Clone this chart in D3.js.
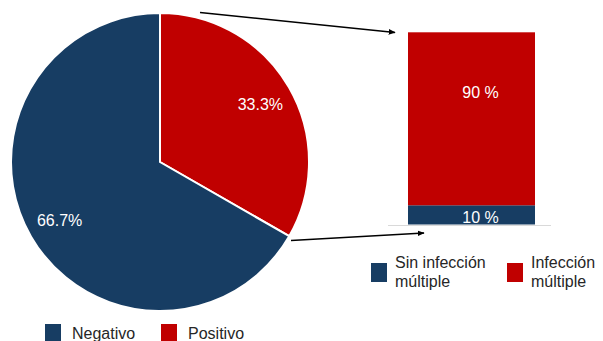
<!DOCTYPE html>
<html><head><meta charset="utf-8">
<script src="https://cdn.jsdelivr.net/npm/d3@7"></script>
<style>html,body{margin:0;padding:0;background:#fff;}svg{display:block;font-family:Arial,"Liberation Sans",sans-serif;}</style>
</head><body>
<script>
// Pie data
const pieCategories = ["Negativo", "Positivo"];
const pieValues = [66.7, 33.3];
const pieLabels = ["66.7%", "33.3%"];
// Breakdown bar data (of positives)
const barCategories = ["Sin infección múltiple", "Infección múltiple"];
const barValues = [10, 90];
const barLabels = ["10 %", "90 %"];
const colors = ["#173d63", "#c00000"];

const W = 603, H = 341;
const svg = d3.select("body").append("svg").attr("width", W).attr("height", H);

const defs = svg.append("defs");
defs.append("marker").attr("id", "arr").attr("viewBox", "0 0 10 10")
  .attr("refX", 9).attr("refY", 5).attr("markerWidth", 5).attr("markerHeight", 5)
  .attr("orient", "auto").append("path").attr("d", "M0,1 L10,5 L0,9 Z").attr("fill", "#000");

// ---- Pie ----
const cx = 160, cy = 162, R = 149;
const pie = d3.pie().sort(null).value(d => d)
  .startAngle(0).endAngle(2 * Math.PI);
// Positivo first clockwise from top, then Negativo
const order = [1, 0];
const arcs = pie(order.map(i => pieValues[i]));
const arc = d3.arc().innerRadius(0).outerRadius(R);
const labelArc = d3.arc().innerRadius(116).outerRadius(116);
const gPie = svg.append("g").attr("transform", `translate(${cx},${cy})`);
gPie.selectAll("path").data(arcs).join("path")
  .attr("d", arc)
  .attr("fill", (d, k) => colors[order[k]])
  .attr("stroke", "#fff").attr("stroke-width", 2);
gPie.selectAll("text").data(arcs).join("text")
  .attr("transform", d => `translate(${labelArc.centroid(d)})`)
  .attr("text-anchor", "middle").attr("dy", "0.35em")
  .attr("fill", "#fff").attr("font-size", 16)
  .text((d, k) => pieLabels[order[k]]);

// ---- Stacked bar ----
const x = d3.scaleBand().domain(["Positivo"]).range([408, 535]).padding(0);
const y = d3.scaleLinear().domain([0, 100]).range([224.5, 32.3]);
let acc = 0;
const stack = barValues.map((v, i) => { const s = { i, y0: acc, y1: acc + v }; acc += v; return s; });
const gBar = svg.append("g");
gBar.selectAll("rect").data(stack).join("rect")
  .attr("x", x("Positivo")).attr("width", x.bandwidth())
  .attr("y", d => y(d.y1)).attr("height", d => y(d.y0) - y(d.y1))
  .attr("fill", d => colors[d.i]);
gBar.selectAll("text").data(stack).join("text")
  .attr("x", x("Positivo") + x.bandwidth() / 2 + 9)
  .attr("y", d => d.i === 0 ? y(d.y1) + 12 : y(d.y1) + 60)
  .attr("text-anchor", "middle").attr("dy", "0.35em")
  .attr("fill", "#fff").attr("font-size", 16)
  .text(d => barLabels[d.i]);
svg.append("line").attr("x1", 388).attr("x2", 551).attr("y1", y(0) + 1).attr("y2", y(0) + 1)
  .attr("stroke", "#d9d9d9").attr("stroke-width", 1);

// ---- Arrows ----
svg.append("line").attr("x1", 200).attr("y1", 12.5).attr("x2", 395).attr("y2", 32.5)
  .attr("stroke", "#000").attr("stroke-width", 1.4).attr("marker-end", "url(#arr)");
svg.append("line").attr("x1", 291).attr("y1", 240.5).attr("x2", 424).attr("y2", 233)
  .attr("stroke", "#000").attr("stroke-width", 1.4).attr("marker-end", "url(#arr)");

// ---- Legends ----
const lg1 = svg.append("g");
const pieLegX = [45, 161];
pieCategories.forEach((c, i) => {
  lg1.append("rect").attr("x", pieLegX[i]).attr("y", 324).attr("width", 16).attr("height", 18).attr("fill", colors[i]);
  lg1.append("text").attr("x", pieLegX[i] + 27).attr("y", 339).attr("font-size", 16).attr("fill", "#262626").text(c);
});
const lg2 = svg.append("g");
const barLegX = [371, 507];
const barLegLines = [["Sin infección", "múltiple"], ["Infección", "múltiple"]];
barCategories.forEach((c, i) => {
  lg2.append("rect").attr("x", barLegX[i]).attr("y", 263).attr("width", 16).attr("height", 19).attr("fill", colors[i]);
  const t = lg2.append("text").attr("x", barLegX[i] + 24).attr("y", 268).attr("font-size", 16).attr("fill", "#262626");
  barLegLines[i].forEach((ln, k) => t.append("tspan").attr("x", barLegX[i] + 24).attr("dy", k ? 19 : 0).text(ln));
});
</script>
</body></html>
